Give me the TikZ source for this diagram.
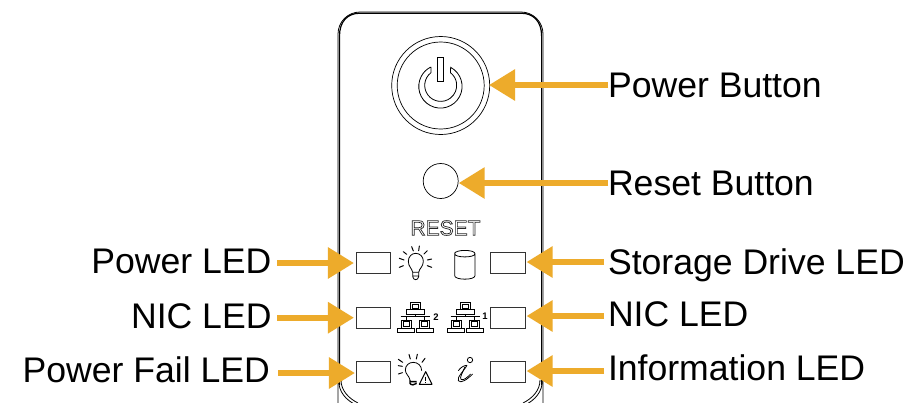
\documentclass[tikz,border=0pt]{standalone}
\usepackage{fontspec}
\setmainfont{Liberation Sans}
\usetikzlibrary{arrows.meta}
\definecolor{amber}{HTML}{EDAB2B}
\tikzset{
  x=1pt,y=-1pt,
  lbl/.style={inner sep=0pt,outer sep=0pt,text height=30pt,text depth=6pt,font=\fontsize{35.6}{40}\selectfont},
  lblL/.style={lbl,anchor=east},
  lblR/.style={lbl,anchor=west},
  raised/.style={text height=30pt-#1,text depth=6pt+#1},
  ledbox/.style={draw=black!80,line width=0.9pt,fill=white,minimum width=34.7pt,minimum height=21pt,inner sep=0pt,outer sep=0pt},
  callout/.style={draw=amber,line width=6pt,-{Triangle[length=26pt,width=30pt]}},
  icon/.style={line width=0.8pt,draw=black},
  iconb/.style={line width=1pt,draw=black,line cap=round},
  panelline/.style={draw=black,line width=0.8pt},
}
\begin{document}
\begin{tikzpicture}
\clip (0,0) rectangle (912,402);
\fill[white] (0,0) rectangle (912,402);
% panel outline
\draw[panelline] (338,420) -- (338,34) arc[start angle=180,end angle=270,radius=22] (360,12) -- (521,12) arc[start angle=270,end angle=360,radius=22] (543,34) -- (543,420);
\draw[panelline,line width=1.2pt] (339.5,385) -- (339.5,36) .. controls (339.5,22) and (347,13.2) .. (360,13.2) -- (521,13.2) .. controls (534,13.2) and (541.6,22) .. (541.6,36) -- (541.6,385);
\draw[panelline] (338.6,380) .. controls (338.6,392) and (346,400) .. (356,405);
\draw[panelline] (341,380) .. controls (341,390) and (348,398) .. (358,403);
\draw[panelline] (542.4,380) .. controls (542.4,392) and (535,400) .. (525,405);
\draw[panelline] (540,380) .. controls (540,390) and (533,398) .. (523,403);
% buttons
\node[circle,draw,line width=0.7pt,minimum size=98pt,inner sep=0pt,outer sep=0pt] (power) at (440.7,85.5) {};
\node[circle,draw,line width=0.7pt,minimum size=87pt,inner sep=0pt] (powerin) at (440.7,85.5) {};
\node[circle,draw,line width=0.7pt,minimum size=35pt,inner sep=0pt,outer sep=0pt] (reset) at (440.7,181) {};
\begin{scope}[shift={(330,0)},scale=1/3]
\draw[icon] (303,202) -- (303,218) arc[start angle=232.6,end angle=-52.6,radius=48] -- (362,202) arc[start angle=-61.8,end angle=241.8,radius=65] -- cycle;
\draw[icon] (322,172) rectangle (341,243);
\end{scope}
\node[font=\fontsize{21}{24}\selectfont,text=black!85,inner sep=0pt] (resetlabel) at (445.5,228) {\special{pdf:code 1 Tr 0.7 w}RESET\special{pdf:code 0 Tr}};
% LEDs
\node[ledbox] (ledA) at (373.3,262.5) {};
\node[ledbox] (ledB) at (373.3,317.5) {};
\node[ledbox] (ledC) at (373.3,372) {};
\node[ledbox] (ledD) at (508.2,262.5) {};
\node[ledbox] (ledE) at (508.2,317.5) {};
\node[ledbox] (ledF) at (508.2,372) {};
% bulb
\begin{scope}[shift={(340,210)},scale=1/3]
\draw[icon] (218,187) .. controls (216,175) and (205,170) .. (205,154) .. controls (205,140) and (215,130) .. (227,130) .. controls (240,130) and (250,140) .. (250,154) .. controls (250,170) and (238,175) .. (236,187) -- cycle;
\draw[icon] (218,187) -- (218,200) .. controls (220,212) and (234,212) .. (236,200) -- (236,187) (218,198) -- (236,198);
\foreach \a/\b/\c/\d in {215/110/220/123,238/108/236/122,262/122/252/132,275/147/262/150,275/172/262/167,178/145/192/150,178/172/190/167,190/125/200/133}
  \draw[iconb] (\a,\b) -- (\c,\d);
% cylinder
\draw[icon] (344,131) .. controls (344,118) and (405,118) .. (405,131) .. controls (405,144) and (344,144) .. (344,131) -- (344,197) .. controls (344,211) and (405,211) .. (405,197) -- (405,131);
\end{scope}
% network icons
\begin{scope}[shift={(340,300)},scale=1/3]
\foreach \o in {0,150}{
\begin{scope}[shift={(\o,0)}]
\draw[icon] (210,8) rectangle (242,28) (216,13) rectangle (236,24) (200,28) rectangle (252,42);
\draw[icon] (226,42) -- (226,50) (182,50) -- (270,50) (199,50) -- (199,60) (254,50) -- (254,60);
\draw[icon] (184,60) rectangle (214,84) (190,65) rectangle (208,79) (238,60) rectangle (268,84) (244,65) rectangle (262,79);
\draw[icon] (172,84) rectangle (224,97) (228,84) rectangle (280,97);
\end{scope}}
\node[font=\fontsize{9.5}{10}\bfseries\selectfont,inner sep=0pt] (two) at (288,52) {2};
\node[font=\fontsize{9.5}{10}\bfseries\selectfont,inner sep=0pt] (one) at (435,50) {1};
% power fail bulb
\draw[icon] (210,240) .. controls (208,228) and (196,222) .. (196,210) .. controls (196,196) and (207,187) .. (220,187) .. controls (233,187) and (245,197) .. (245,212);
\draw[icon,line width=1.4pt] (210,240) -- (210,250) .. controls (213,256) and (224,256) .. (230,250) (210,245) -- (230,245);
\draw[icon,line width=1pt,line join=round] (238,253) -- (276,253) -- (257,215) -- cycle;
\draw[icon,line width=1.3pt] (257,230) -- (257,243) (257,247) -- (257,250);
\foreach \a/\b/\c/\d in {175/178/188/187,207/163/211/177,232/163/229/177,255/175/246/187,175/197/187/199,175/222/187/218}
  \draw[iconb] (\a,\b) -- (\c,\d);
% information icon
\draw[icon] (390,180) circle[radius=8];
\draw[icon,line join=round] (381,196) .. controls (372,212) and (350,232) .. (355,242) .. controls (362,252) and (382,238) .. (398,222);
\draw[icon] (375,200) .. controls (368,218) and (358,232) .. (363,238) .. controls (370,243) and (382,232) .. (392,222);
\draw[icon] (355,212) .. controls (362,202) and (372,196) .. (381,196);
\end{scope}
% labels
\node[lblR] (lp) at (608,85) {Power Button};
\node[lblR] (lr) at (608,183) {Reset Button};
\node[lblR] (ls) at (608,262) {Storage Drive LED};
\node[lblR,raised=2pt] (ln) at (608,316) {NIC LED};
\node[lblR,raised=3pt] (li) at (608,371) {Information LED};
\node[lblL,raised=2pt] (la) at (271.5,263) {Power LED};
\node[lblL,raised=1.5pt] (lb) at (271.5,317.7) {NIC LED};
\node[lblL,raised=2.5pt] (lc) at (270,373) {Power Fail LED};
% connectors
\draw[callout,shorten >=-0.7pt] (lp.west) -- (lp.west -| power.east);
\draw[callout,shorten >=0.5pt] (lr.west) -- (lr.west -| reset.east);
\draw[callout,shorten <=4pt,shorten >=1pt] (ls.west) -- (ls.west -| ledD.east);
\draw[callout,shorten <=4pt,shorten >=1pt] (ln.west) -- (ln.west -| ledE.east);
\draw[callout,shorten <=4pt,shorten >=1pt] (li.west) -- (li.west -| ledF.east);
\draw[callout,shorten <=5.5pt,shorten >=2pt] (la.east) -- (la.east -| ledA.west);
\draw[callout,shorten <=5.5pt,shorten >=2pt] (lb.east) -- (lb.east -| ledB.west);
\draw[callout,shorten <=8pt,shorten >=1pt] (lc.east) -- (lc.east -| ledC.west);
\end{tikzpicture}
\end{document}
